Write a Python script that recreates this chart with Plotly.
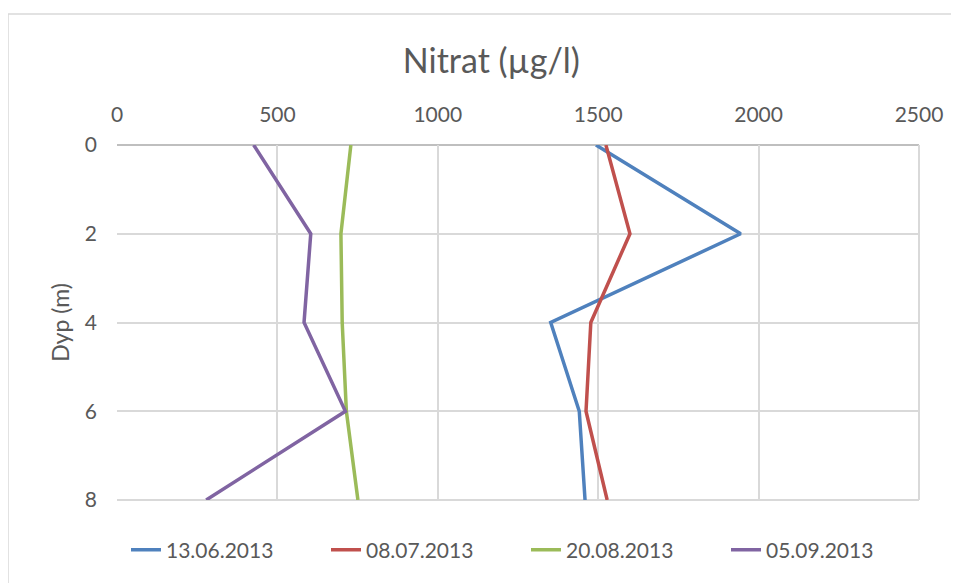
import plotly.graph_objects as go

depth = [0, 2, 4, 6, 8]
series_names = ["13.06.2013", "08.07.2013", "20.08.2013", "05.09.2013"]
nitrat_1306 = [1493, 1944, 1352, 1441, 1459]
nitrat_0807 = [1524, 1599, 1477, 1462, 1528]
nitrat_2008 = [729, 698, 702, 715, 751]
nitrat_0509 = [426, 604, 583, 712, 278]
colors = ["#4f81bd", "#c0504d", "#9bbb59", "#8064a2"]

x_ticks = [0, 500, 1000, 1500, 2000, 2500]
y_ticks = [0, 2, 4, 6, 8]

fig = go.Figure()
for name, vals, c in zip(series_names, [nitrat_1306, nitrat_0807, nitrat_2008, nitrat_0509], colors):
    fig.add_trace(go.Scatter(x=vals, y=depth, mode="lines", name=name,
                             line=dict(color=c, width=3.5)))

font_family = "Lato, 'Open Sans', sans-serif"
L, R, T, B = 109, 48, 137, 91
pw, ph = 959 - L - R, 583 - T - B
fig.update_layout(
    width=959, height=583,
    margin=dict(l=L, r=R, t=T, b=B, autoexpand=False),
    paper_bgcolor="white", plot_bgcolor="white",
    font=dict(family=font_family, color="#595959", size=21),
    title=dict(text="Nitrat (µg/l)", x=0.504, xanchor="center", y=1 - 53 / 583, yanchor="middle",
               font=dict(size=34, color="#595959", family=font_family)),
    xaxis=dict(side="top", range=[0, 2500], tickvals=x_ticks, showgrid=True,
               gridcolor="#d9d9d9", gridwidth=2, zeroline=False, showline=False,
               ticks="", ticklabelstandoff=18, tickfont=dict(size=21)),
    yaxis=dict(range=[8, 0], tickvals=y_ticks, showgrid=True, gridcolor="#d9d9d9",
               gridwidth=2, zeroline=False, showline=False, ticks="",
               ticklabelstandoff=19, tickfont=dict(size=21),
               title=dict(text="Dyp (m)", font=dict(size=23), standoff=8)),
    legend=dict(orientation="h", x=9 / pw, xanchor="left",
                y=-(550 - 8 - (583 - B)) / ph, yanchor="middle",
                font=dict(size=21), entrywidth=155, entrywidthmode="pixels",
                traceorder="normal"),
    showlegend=True,
)
fig.add_shape(type="line", xref="paper", yref="paper", x0=0, x1=1, y0=1, y1=1,
              line=dict(color="#bfbfbf", width=2), layer="below")
fig.add_shape(type="line", xref="paper", yref="paper", x0=1, x1=1, y0=0, y1=1,
              line=dict(color="#d9d9d9", width=2), layer="below")
fig.add_shape(type="line", xref="paper", yref="paper", x0=0, x1=1, y0=0, y1=0,
              line=dict(color="#d9d9d9", width=2), layer="below")
fig.add_shape(type="rect", xref="paper", yref="paper",
              x0=-L / pw, x1=1.3, y0=-0.5, y1=(ph + T - 6) / ph,
              line=dict(color="#d9d9d9", width=1.5), fillcolor="rgba(0,0,0,0)", layer="below")

fig.write_html("out.html")
